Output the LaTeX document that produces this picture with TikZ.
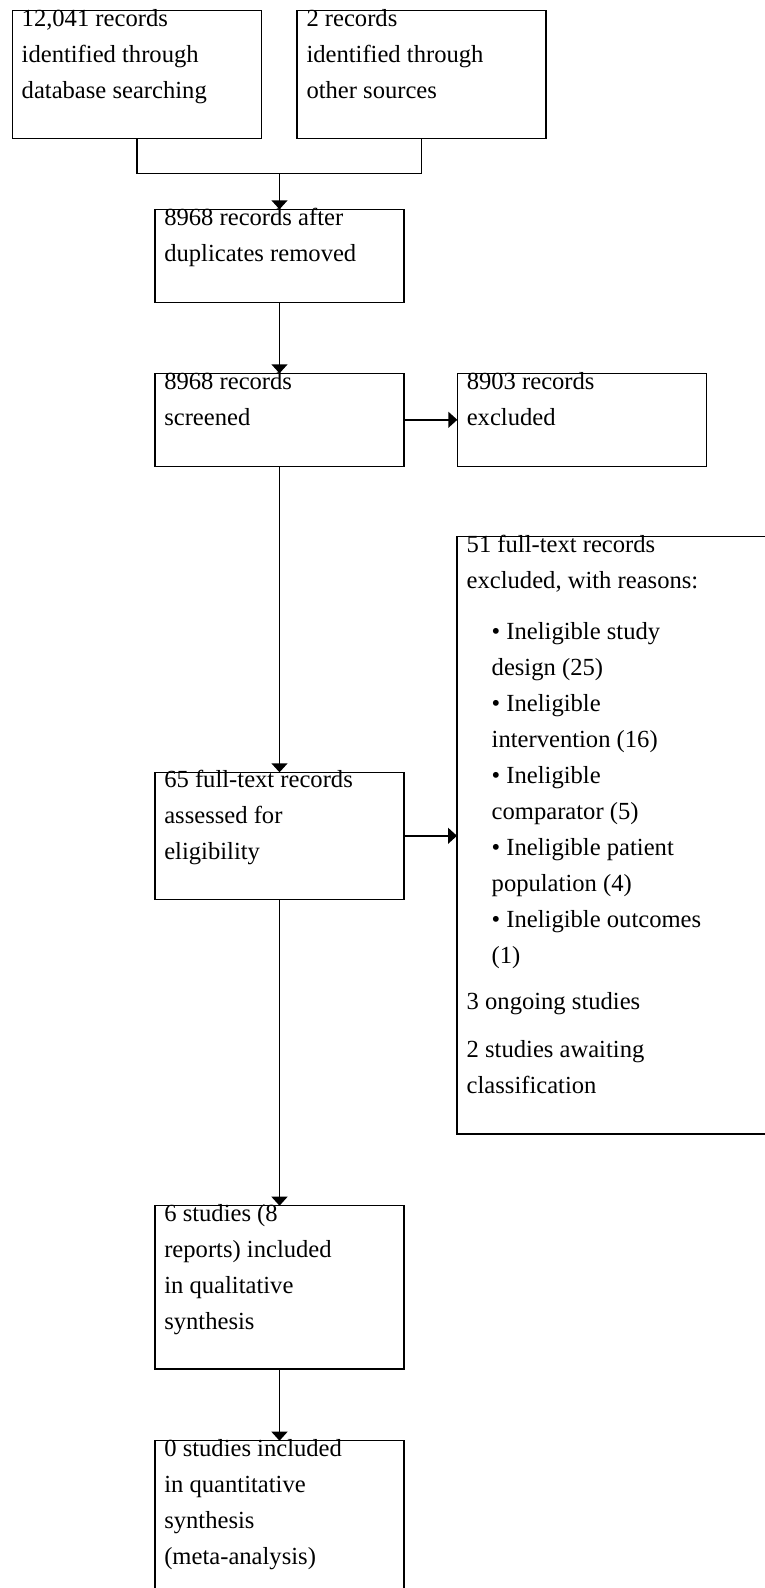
\documentclass[tikz,border=0pt]{standalone}
\usepackage{fontspec}
\setmainfont{Liberation Serif}
\usetikzlibrary{arrows.meta}
\newcommand\txtline[4]{\node[txt] (#1) at (#2,#3) {#4};}
\begin{document}
\begin{tikzpicture}[x=1pt,y=-1pt,
  flowbox/.style={draw=black, line width=1.4pt, rectangle, inner sep=0pt, outer sep=0pt, anchor=north west, minimum width=249pt},
  txt/.style={inner sep=0pt, outer sep=0pt, anchor=base west, font=\fontsize{24.6}{36}\selectfont, text=black},
  arr/.style={draw=black, line width=1.4pt, -{Triangle[length=9pt,width=16pt]}},
  link/.style={draw=black, line width=1.4pt}]
\useasboundingbox (0,0) rectangle (765,1588);
\clip (0,0) rectangle (765,1588);

% boxes
\node[flowbox, minimum height=128pt] (b1) at (12.5,10.3) {};
\node[flowbox, minimum height=128pt] (b2) at (297,10.3) {};
\node[flowbox, minimum height=93pt] (b3) at (155,209.3) {};
\node[flowbox, minimum height=93pt] (b4) at (155,373.3) {};
\node[flowbox, minimum height=93pt] (b5) at (457.3,373.3) {};
\node[flowbox, minimum height=597.5pt, minimum width=330pt] (b6) at (457,536.5) {};
\node[flowbox, minimum height=127pt] (b7) at (155,772.3) {};
\node[flowbox, minimum height=163.3pt] (b8) at (155,1205.7) {};
\node[flowbox, minimum height=163.3pt] (b9) at (155,1440.7) {};

% connectors
\coordinate (m) at (279.5,173.7);
\draw[link] (b1.south) |- (m) -| (b2.south);
\draw[arr] (m) -- (b3.north);
\draw[arr] (b3.south) -- (b4.north);
\draw[arr] (b4.east) -- (b5.west);
\draw[arr] (b4.south) -- (b7.north);
\draw[arr] (b7.east) -- (b6.west |- b7.east);
\draw[arr] (b7.south) -- (b8.north);
\draw[arr] (b8.south) -- (b9.north);

% texts
\txtline{t1a}{21.7}{26.3}{12,041 records}
\txtline{t1b}{21.7}{62.3}{identified through}
\txtline{t1c}{21.7}{98.3}{database searching}

\txtline{t2a}{306.5}{26.3}{2 records}
\txtline{t2b}{306.5}{62.3}{identified through}
\txtline{t2c}{306.5}{98.3}{other sources}

\txtline{t3a}{164.3}{225.5}{8968 records after}
\txtline{t3b}{164.3}{261.3}{duplicates removed}

\txtline{t4a}{164.3}{389}{8968 records}
\txtline{t4b}{164.3}{425}{screened}

\txtline{t5a}{466.8}{389}{8903 records}
\txtline{t5b}{466.8}{425}{excluded}

\txtline{t6a}{466.7}{552}{51 full-text records}
\txtline{t6b}{466.7}{588}{excluded, with reasons:}
\txtline{t6c}{491.7}{639}{• Ineligible study}
\txtline{t6d}{491.7}{675}{design (25)}
\txtline{t6e}{491.7}{711}{• Ineligible}
\txtline{t6f}{491.7}{747}{intervention (16)}
\txtline{t6g}{491.7}{783}{• Ineligible}
\txtline{t6h}{491.7}{819}{comparator (5)}
\txtline{t6i}{491.7}{855}{• Ineligible patient}
\txtline{t6j}{491.7}{891}{population (4)}
\txtline{t6k}{491.7}{927}{• Ineligible outcomes}
\txtline{t6l}{491.7}{963}{(1)}
\txtline{t6m}{466.7}{1009}{3 ongoing studies}
\txtline{t6n}{466.7}{1057}{2 studies awaiting}
\txtline{t6o}{466.7}{1093}{classification}

\txtline{t7a}{164.3}{787.5}{65 full-text records}
\txtline{t7b}{164.3}{823.3}{assessed for}
\txtline{t7c}{164.3}{859.1}{eligibility}

\txtline{t8a}{164.3}{1221.7}{6 studies (8}
\txtline{t8b}{164.3}{1257.5}{reports) included}
\txtline{t8c}{164.3}{1293.3}{in qualitative}
\txtline{t8d}{164.3}{1329.1}{synthesis}

\txtline{t9a}{164.3}{1456.7}{0 studies included}
\txtline{t9b}{164.3}{1492.5}{in quantitative}
\txtline{t9c}{164.3}{1528.3}{synthesis}
\txtline{t9d}{164.3}{1564.1}{(meta-analysis)}
\end{tikzpicture}
\end{document}
